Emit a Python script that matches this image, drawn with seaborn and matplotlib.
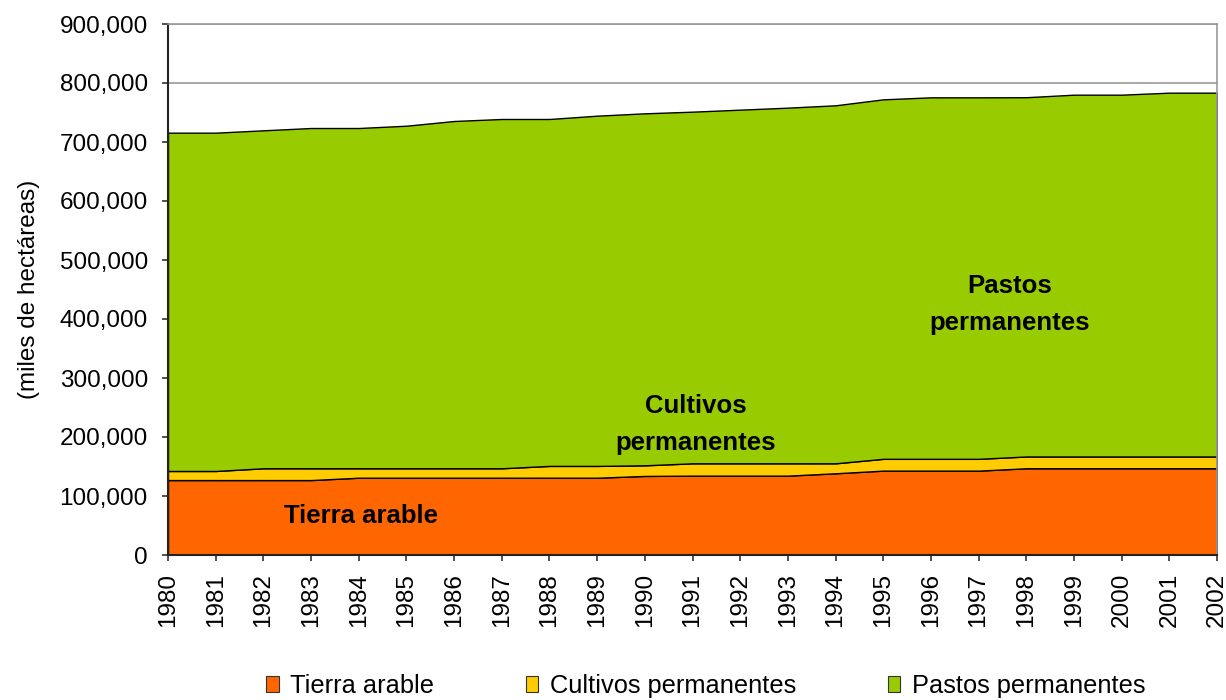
import matplotlib
matplotlib.use("Agg")
import matplotlib.pyplot as plt
import matplotlib.ticker as mticker
from matplotlib.patches import Patch
import seaborn as sns
import numpy as np

years = list(range(1980, 2003))
series_names = ["Tierra arable", "Cultivos permanentes", "Pastos permanentes"]
tierra_arable = [127000, 127000, 127000, 127000, 131000, 131000, 131000, 131000, 131000, 131000,
                 134000, 134500, 134500, 134500, 138500, 143000, 143000, 143000, 147000, 147000,
                 147000, 147000, 147000]
cultivos_permanentes = [15400, 15400, 20000, 20000, 16000, 16000, 16000, 16000, 20000, 20000,
                        18000, 20900, 20900, 20900, 16900, 20000, 20000, 20000, 20000, 20000,
                        20000, 20000, 20000]
pastos_permanentes = [573400, 573400, 572800, 576700, 576700, 580600, 588600, 592000, 588000, 593600,
                      596600, 596000, 599400, 602800, 606800, 609300, 612700, 612700, 608900, 613200,
                      613200, 616600, 616600]
colors = ["#FF6600", "#FFCC00", "#99CC00"]

sns.set_style("white")
plt.rcParams["font.family"] = ["Liberation Sans", "DejaVu Sans"]
plt.rcParams["text.color"] = "black"
plt.rcParams["axes.labelcolor"] = "black"
plt.rcParams["xtick.color"] = "black"
plt.rcParams["ytick.color"] = "black"

fig = plt.figure(figsize=(12.26, 7.0), dpi=100)
ax = fig.add_axes([168 / 1226, 1 - 555 / 700, (1217 - 168) / 1226, (555 - 24) / 700])

ax.yaxis.grid(True, color="#999999", linewidth=1.2, zorder=0)
ax.set_axisbelow(True)
ax.stackplot(years, tierra_arable, cultivos_permanentes, pastos_permanentes,
             colors=colors, edgecolor="black", linewidth=1.0, zorder=2)

ax.set_xlim(1980, 2002)
ax.set_ylim(0, 900000)
ax.set_yticks(np.arange(0, 900001, 100000))
ax.yaxis.set_major_formatter(mticker.FuncFormatter(lambda v, p: f"{int(v):,}"))
ax.set_xticks(years)
ax.set_xticklabels([str(y) for y in years], rotation=90)
ax.tick_params(axis="both", labelsize=17.5, direction="out", length=4.5, width=1.2,
               color="#333333", labelcolor="black", bottom=True, left=True)
ax.tick_params(axis="y", pad=10)
ax.tick_params(axis="x", pad=8.5)
ax.set_ylabel("(miles de hectáreas)", fontsize=17.5, labelpad=14, color="black")

for s in ["left", "bottom"]:
    ax.spines[s].set_color("#222222")
    ax.spines[s].set_linewidth(1.5)
for s in ["top", "right"]:
    ax.spines[s].set_color("#999999")
    ax.spines[s].set_linewidth(1.2)

lab_kw = dict(ha="center", va="baseline", fontsize=18.5, fontweight="bold", color="black", zorder=5)
ax.text(1984.04, 54700, "Tierra arable", **lab_kw)
ax.text(1991.07, 240200, "Cultivos", **lab_kw)
ax.text(1991.07, 178000, "permanentes", **lab_kw)
ax.text(1997.66, 443600, "Pastos", **lab_kw)
ax.text(1997.66, 381400, "permanentes", **lab_kw)

handles = [Patch(facecolor=c, edgecolor="#333333", linewidth=0.8) for c in colors]
fig.legend(handles, series_names, loc="center", bbox_to_anchor=(0.5755, 1 - 686 / 700), ncol=3,
           frameon=False, fontsize=18.3, handlelength=0.5, handleheight=0.55, handletextpad=0.45,
           columnspacing=3.6, labelcolor="black")

fig.savefig("out.png", dpi=100)
